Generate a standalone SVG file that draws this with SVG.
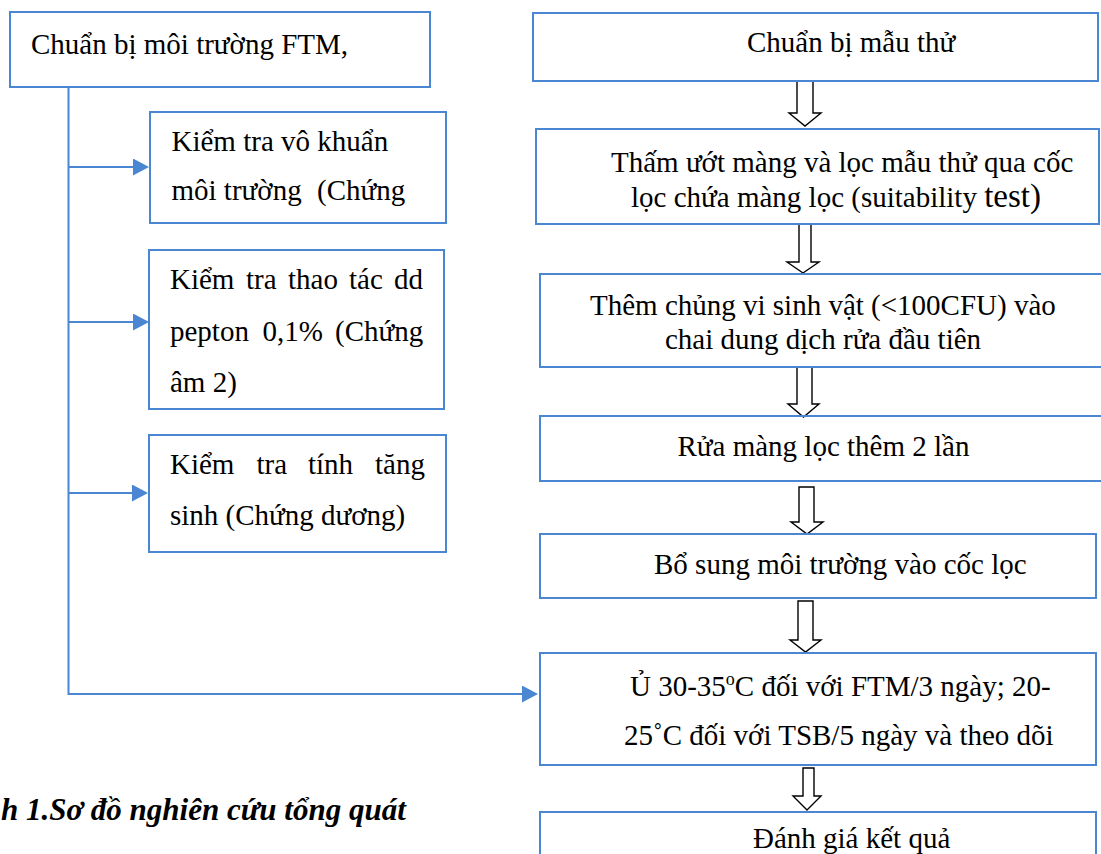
<svg xmlns="http://www.w3.org/2000/svg" width="1101" height="854" viewBox="0 0 1101 854">
<style>
.box{fill:none;stroke:#4A86D2;stroke-width:2}
.t{font-family:"Liberation Serif","Times New Roman",serif;font-size:29px;fill:#000}
.con{fill:none;stroke:#4A86D2;stroke-width:2}
.harrow{fill:#fff;stroke:#000;stroke-width:1.4;stroke-linejoin:miter}
.cap{font-family:"Liberation Serif","Times New Roman",serif;font-size:31px;font-weight:bold;font-style:italic;fill:#000}
</style>
<defs>
<marker id="ah" markerUnits="userSpaceOnUse" markerWidth="17" markerHeight="17" refX="0" refY="8.5" orient="auto">
<path d="M0,0 L16,8.5 L0,17 Z" fill="#4A86D2"/>
</marker>
</defs>
<rect width="1101" height="854" fill="#fff"/>
<g id="connectors">
<path class="con" d="M68.5,87 V694 H522" marker-end="url(#ah)"/>
<path class="con" d="M68.5,167 H133" marker-end="url(#ah)"/>
<path class="con" d="M68.5,322 H133" marker-end="url(#ah)"/>
<path class="con" d="M68.5,493 H132" marker-end="url(#ah)"/>
<path class="harrow" d="M797,81 V113 H789 L805,126 L821,113 H813 V81"/>
<path class="harrow" d="M799,224 V262 H787 L803,273 L819,262 H811 V224"/>
<path class="harrow" d="M797,367 V404 H788 L803.5,417 L819,404 H812 V367"/>
<path class="harrow" d="M799,487 V522 H791 L807,534 L823,522 H814 V487 Z"/>
<path class="harrow" d="M798,601 V640 H790 L805.5,652 L821,640 H813 V601 Z"/>
<path class="harrow" d="M803,768 V796 H793 L807,810 L821,796 H814 V768 Z"/>
</g>
<g id="n-ftm">
<rect class="box" x="10" y="12" width="420" height="75"/>
<text class="t" x="31" y="54">Chuẩn bị môi trường FTM,</text>
</g>
<g id="n-vokhuan">
<rect class="box" x="150" y="112" width="296" height="111"/>
<text class="t" x="171.5" y="151">Kiểm tra vô khuẩn</text>
<text class="t" y="200"><tspan x="171.5">môi trường</tspan><tspan x="317">(Chứng</tspan></text>
</g>
<g id="n-thaotac">
<rect class="box" x="149" y="250" width="295" height="159"/>
<text class="t" y="289"><tspan x="170">Kiểm</tspan><tspan x="246">tra</tspan><tspan x="288">thao</tspan><tspan x="349">tác</tspan><tspan x="394">dd</tspan></text>
<text class="t" y="341"><tspan x="170">pepton</tspan><tspan x="262.5">0,1%</tspan><tspan x="335">(Chứng</tspan></text>
<text class="t" x="170" y="392">âm 2)</text>
</g>
<g id="n-tangsinh">
<rect class="box" x="149" y="435" width="297" height="117"/>
<text class="t" y="474"><tspan x="170">Kiểm</tspan><tspan x="256.5">tra</tspan><tspan x="308">tính</tspan><tspan x="375">tăng</tspan></text>
<text class="t" x="170" y="525">sinh (Chứng dương)</text>
</g>
<g id="n-mauthu">
<rect class="box" x="533" y="13" width="565" height="68"/>
<text class="t" x="747" y="52">Chuẩn bị mẫu thử</text>
</g>
<g id="n-tham">
<rect class="box" x="536" y="129" width="563" height="95"/>
<text class="t" x="611" y="172">Thấm ướt màng và lọc mẫu thử qua cốc</text>
<text class="t" x="631" y="207">lọc chứa màng lọc (suitability <tspan style="font-size:33px">test)</tspan></text>
</g>
<g id="n-them">
<rect class="box" x="540" y="274" width="565" height="93"/>
<text class="t" x="590" y="315">Thêm chủng vi sinh vật (&lt;100CFU) vào</text>
<text class="t" x="665" y="349">chai dung dịch rửa đầu tiên</text>
</g>
<g id="n-rua">
<rect class="box" x="540" y="416" width="565" height="65"/>
<text class="t" x="677.5" y="456">Rửa màng lọc thêm 2 lần</text>
</g>
<g id="n-bosung">
<rect class="box" x="540" y="534" width="556" height="64"/>
<text class="t" x="654" y="574">Bổ sung môi trường vào cốc lọc</text>
</g>
<g id="n-u">
<rect class="box" x="540" y="653" width="556" height="112"/>
<text class="t" x="630" y="696">Ủ 30-35<tspan style="font-size:18px" dy="-11">o</tspan><tspan dy="11">C đối với FTM/3 ngày; 20-</tspan></text>
<text class="t" x="624" y="745">25˚C đối với TSB/5 ngày và theo dõi</text>
</g>
<g id="n-danhgia">
<rect class="box" x="540" y="812" width="556" height="80"/>
<text class="t" x="753" y="848">Đánh giá kết quả</text>
</g>
<text class="cap" x="1" y="820">h 1.Sơ đồ nghiên cứu tổng quát</text>
</svg>
